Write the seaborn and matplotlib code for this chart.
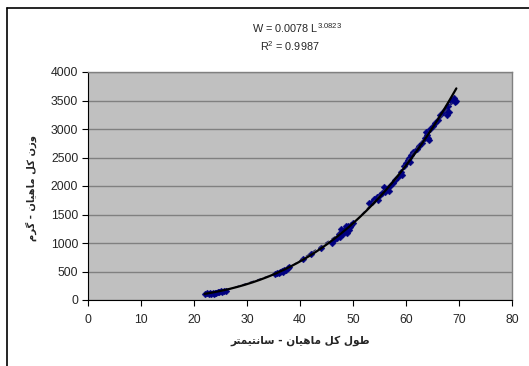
import matplotlib
matplotlib.use("Agg")
import matplotlib.pyplot as plt
import seaborn as sns
import numpy as np
import pandas as pd
from matplotlib.lines import Line2D

# ---------------- data ----------------
length_cm = [22, 22.5, 22.8, 23, 23.3, 23.6, 23.8, 24, 24.2, 24.5, 24.8, 25, 25.3, 25.6, 26,
             35.2, 35.6, 36, 36.3, 36.6, 36.8, 37, 37.3, 37.7, 38,
             40.5, 42, 44,
             46, 46.5, 47, 47.3, 47.6, 47.8, 48, 48.2, 48.5, 48.6, 48.8, 49, 49.3, 49.4, 49.6, 50,
             53, 53.5, 54, 54.5, 54.8, 55, 55.5, 55.8, 56, 56.3, 56.7, 57, 57.5, 58,
             58.5, 59, 59.3, 59.7, 60, 60.3, 60.6, 60.8, 61, 61.3,
             62, 62.5, 63, 63.5, 63.8, 64, 64.2, 64.3, 64.5, 65,
             65.5, 66, 66.5, 67, 67.5, 67.7, 68, 68.2, 68.5, 69, 69.3, 69.5]
weight_g = [110, 115, 100, 120, 105, 125, 110, 130, 115, 140, 135, 150, 140, 155, 165,
            460, 480, 470, 500, 510, 490, 530, 520, 560, 580,
            720, 800, 920,
            1000, 1050, 1080, 1150, 1100, 1250, 1200, 1150, 1250, 1300, 1180, 1300, 1220, 1280, 1320, 1350,
            1700, 1720, 1780, 1800, 1760, 1850, 1870, 1980, 1900, 1950, 1920, 2000, 2050, 2100,
            2150, 2250, 2200, 2350, 2400, 2450, 2500, 2420, 2550, 2600,
            2650, 2700, 2750, 2850, 2950, 2900, 2850, 2800, 3000, 3050,
            3100, 3150, 3250, 3300, 3350, 3250, 3400, 3300, 3500, 3550, 3480, 3500]

# dashed series (group means)
mean_len = [22, 24, 26, 36, 38, 48, 50, 55, 58, 61, 64, 69]
mean_wt = [110, 135, 170, 480, 570, 1200, 1330, 1840, 2100, 2550, 2900, 3500]

# power trendline coefficients (as printed)
coef_a = 0.0078
coef_b = 3.0823
r_squared = 0.9987

x_ticks = [0, 10, 20, 30, 40, 50, 60, 70, 80]
y_ticks = [0, 500, 1000, 1500, 2000, 2500, 3000, 3500, 4000]

x_label = "طول کل ماهیان - سانتیمتر"
y_label = "وزن کل ماهیان - گرم"

# -------- simple Arabic/Persian shaping (presentation forms) --------
FORMS = {  # iso, fin, ini, med
    'ط': ('\uFEC1', '\uFEC2', '\uFEC3', '\uFEC4'),
    'و': ('\uFEED', '\uFEEE', None, None),
    'ل': ('\uFEDD', '\uFEDE', '\uFEDF', '\uFEE0'),
    'ک': ('\uFB8E', '\uFB8F', '\uFB90', '\uFB91'),
    'م': ('\uFEE1', '\uFEE2', '\uFEE3', '\uFEE4'),
    'ا': ('\uFE8D', '\uFE8E', None, None),
    'ه': ('\uFEE9', '\uFEEA', '\uFEEB', '\uFEEC'),
    'ی': ('\uFBFC', '\uFBFD', '\uFBFE', '\uFBFF'),
    'ن': ('\uFEE5', '\uFEE6', '\uFEE7', '\uFEE8'),
    'س': ('\uFEB1', '\uFEB2', '\uFEB3', '\uFEB4'),
    'ت': ('\uFE95', '\uFE96', '\uFE97', '\uFE98'),
    'ر': ('\uFEAD', '\uFEAE', None, None),
    'ز': ('\uFEAF', '\uFEB0', None, None),
    'گ': ('\uFB92', '\uFB93', '\uFB94', '\uFB95'),
}


def shape(text):
    out = []
    n = len(text)
    for i, ch in enumerate(text):
        if ch not in FORMS:
            out.append(ch)
            continue
        f = FORMS[ch]
        prev = text[i - 1] if i > 0 else None
        nxt = text[i + 1] if i < n - 1 else None
        join_prev = prev in FORMS and FORMS[prev][2] is not None
        join_next = nxt in FORMS and f[2] is not None
        if join_prev and join_next:
            out.append(f[3])
        elif join_prev:
            out.append(f[1])
        elif join_next:
            out.append(f[2])
        else:
            out.append(f[0])
    return ''.join(reversed(out))


# ---------------- plot ----------------
sns.set_style("white")
plt.rcParams['font.family'] = ['Liberation Sans', 'DejaVu Sans']
plt.rcParams['mathtext.fontset'] = 'custom'
plt.rcParams['mathtext.rm'] = 'Liberation Sans'
plt.rcParams['mathtext.default'] = 'regular'

fig = plt.figure(figsize=(5.29, 3.66), dpi=100)
ax = fig.add_axes([88 / 529, 1 - 300 / 366, (512 - 88) / 529, (300 - 72) / 366])
ax.set_facecolor('#C0C0C0')

df = pd.DataFrame({'L': length_cm, 'W': weight_g})
sns.scatterplot(data=df, x='L', y='W', marker='D', s=12, color='#000080',
                edgecolor='#000080', linewidth=0.3, ax=ax, zorder=3)

dfm = pd.DataFrame({'L': mean_len, 'W': mean_wt})
sns.lineplot(data=dfm, x='L', y='W', color='#303070', lw=0.8, ax=ax,
             linestyle=(0, (4, 3)), zorder=4)

lx = np.linspace(min(length_cm), max(length_cm), 200)
dft = pd.DataFrame({'L': lx, 'W': coef_a * lx ** coef_b})
sns.lineplot(data=dft, x='L', y='W', color='black', lw=1.6, ax=ax, zorder=5)

ax.set_xlim(0, 80)
ax.set_ylim(0, 4000)
ax.set_xticks(x_ticks)
ax.set_yticks(y_ticks)
ax.set_xticklabels([str(v) for v in x_ticks])
ax.set_yticklabels([str(v) for v in y_ticks])
ax.set_xlabel('')
ax.set_ylabel('')
ax.yaxis.grid(True, color='#808080', lw=1)
ax.xaxis.grid(False)
ax.set_axisbelow(True)
ax.tick_params(axis='both', direction='out', length=4, width=0.8, color='black',
               labelsize=8.8, pad=3, left=True, bottom=True)
ax.tick_params(axis='x', pad=6)
for side in ['top', 'right']:
    ax.spines[side].set_color('#808080')
    ax.spines[side].set_linewidth(1)
for side in ['left', 'bottom']:
    ax.spines[side].set_color('black')
    ax.spines[side].set_linewidth(0.8)

fig.text(300 / 529, 1 - 341 / 366, shape(x_label), ha='center', va='center',
         fontsize=7.6, fontweight='bold', family=['DejaVu Sans'])
fig.text(31 / 529, 1 - 188 / 366, shape(y_label), ha='center', va='center',
         rotation=90, fontsize=7.2, fontweight='bold', family=['DejaVu Sans'])

fig.text(297 / 529, 1 - 28 / 366, 'W = %.4f L$^{%.4f}$' % (coef_a, coef_b),
         ha='center', va='center', fontsize=7.8)
fig.text(290 / 529, 1 - 46 / 366, 'R$^{2}$ = %.4f' % r_squared,
         ha='center', va='center', fontsize=7.8)

# outer chart frame: only left and top edges fall inside the image
fx = 7 / 529
fy = 1 - 8 / 366
fig.lines.append(Line2D([fx, fx], [0, fy], transform=fig.transFigure,
                        color='black', lw=1.2))
fig.lines.append(Line2D([fx, 1.0], [fy, fy], transform=fig.transFigure,
                        color='black', lw=1.2))

fig.savefig('out.png', dpi=100)
